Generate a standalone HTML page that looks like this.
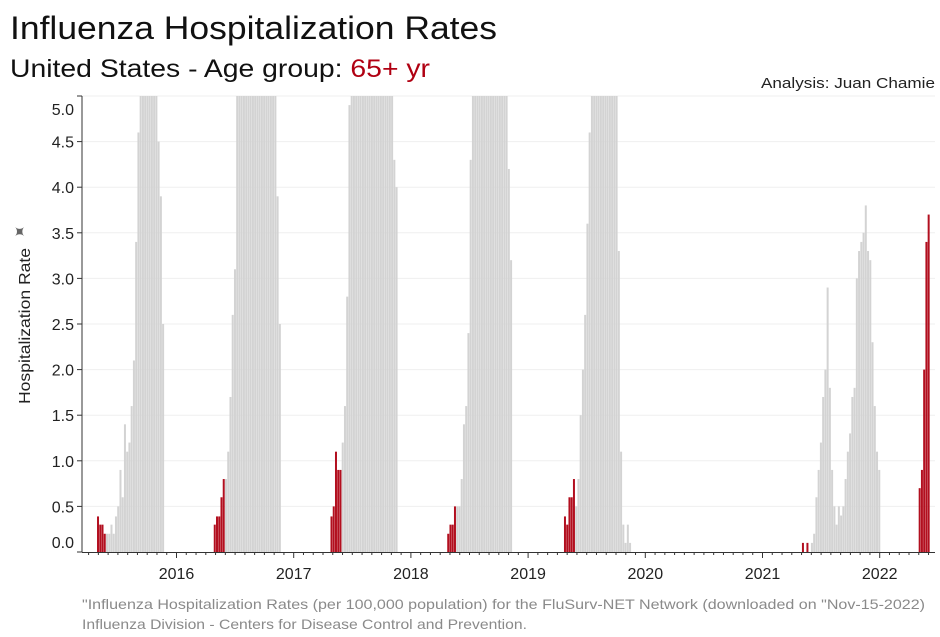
<!DOCTYPE html>
<html><head><meta charset="utf-8"><style>
body{margin:0;background:#fff;width:940px;height:637px;overflow:hidden;font-family:"Liberation Sans",sans-serif}
svg{display:block}
</style></head><body>
<svg id="chart" width="940" height="637" viewBox="0 0 940 637">
<text x="10" y="39" font-size="32" fill="#111" textLength="487" lengthAdjust="spacingAndGlyphs">Influenza Hospitalization Rates</text>
<text x="10" y="77" font-size="25" fill="#111" textLength="420" lengthAdjust="spacingAndGlyphs">United States - Age group: <tspan fill="#b00012">65+ yr</tspan></text>
<text x="761" y="88" font-size="15" fill="#222" textLength="174" lengthAdjust="spacingAndGlyphs">Analysis: Juan Chamie</text>
<g id="grid"></g>
<g id="bars"></g>
<g id="axes"></g>
<text transform="translate(30,404) rotate(-90)" font-size="16" fill="#222" textLength="156" lengthAdjust="spacingAndGlyphs">Hospitalization Rate</text>
<text transform="translate(24,236) rotate(-45)" font-size="17" fill="#666" text-anchor="middle">✦</text>
<text x="82" y="609" font-size="14" fill="#8a8a8a" textLength="843" lengthAdjust="spacingAndGlyphs">"Influenza Hospitalization Rates (per 100,000 population) for the FluSurv-NET Network (downloaded on "Nov-15-2022)</text>
<text x="82" y="629" font-size="14" fill="#8a8a8a" textLength="445" lengthAdjust="spacingAndGlyphs">Influenza Division - Centers for Disease Control and Prevention.</text>
</svg>
<script>
const seasonStart = [7, 59, 111, 163, 215, 321, 373];
const seasonRed = [4, 5, 5, 4, 5, 4, 5];
const season1 = [0.39,0.3,0.3,0.2,0.2,0.2,0.3,0.2,0.39,0.5,0.9,0.6,1.4,1.1,1.2,1.6,2.1,3.4,4.6,5.5,6,6.5,6,6,5.5,5.5,5.2,4.5,3.9,2.5];
const season2 = [0.3,0.39,0.39,0.6,0.8,0.8,1.1,1.7,2.6,3.1,5.5,6,6.5,7,7,7,7,6.5,6.5,6,6,6,5.5,5.5,5.5,5.5,5.2,5.2,3.9,2.5];
const season3 = [0.39,0.5,1.1,0.9,0.9,1.2,1.6,2.8,4.9,5.5,6,6.5,7,7,7,7,6.5,6.5,6,6,6,5.5,5.5,5.5,5.5,5.2,5.2,5.1,4.3,4.0];
const season4 = [0.2,0.3,0.3,0.5,0.5,0.5,0.8,1.4,1.6,2.4,4.3,5.5,6,6.5,7,7,7,6.5,6.5,6,6,5.5,5.5,5.5,5.2,5.2,5.1,4.2,3.2];
const season5 = [0.39,0.3,0.6,0.6,0.8,0.5,0.8,1.5,2.0,2.6,3.6,4.6,5.5,6,6.5,7,7,6.5,6,6,5.5,5.2,5.2,5.1,3.3,1.1,0.3,0.1,0.3,0.1];
const season6 = [0.1,0,0.1,0,0.1,0.2,0.6,0.9,1.2,1.7,2.0,2.9,1.8,0.9,0.5,0.3,0.5,0.4,0.5,0.8,1.1,1.3,1.7,1.8,3.0,3.3,3.4,3.5,3.8,3.3,3.2,2.3,1.6,1.1,0.9];
const season7 = [0.7,0.9,2.0,3.4,3.7];
const seasons = [season1, season2, season3, season4, season5, season6, season7];
const yTicks = ["0.0","0.5","1.0","1.5","2.0","2.5","3.0","3.5","4.0","4.5","5.0"];
const yearLabels = ["2016","2017","2018","2019","2020","2021","2022"];

const NS = "http://www.w3.org/2000/svg";
const X0 = 81.3, WK = 2.245, BASE = 552, PXU = 91.2, YMAX = 5.0;
const xWeek = w => X0 + w * WK;
const yVal = v => BASE - Math.min(v, YMAX + 0.0) * PXU;
const xYear = y => 176.5 + (y - 2016) * 117.2;
function mk(tag, attrs, parent){const e=document.createElementNS(NS,tag);for(const k in attrs)e.setAttribute(k,attrs[k]);parent.appendChild(e);return e;}
const grid = document.getElementById('grid'), bars = document.getElementById('bars'), axes = document.getElementById('axes');

yTicks.forEach((t,i)=>{
  const v = parseFloat(t), y = BASE - v*PXU;
  if (v>0){ const g=mk('line',{x1:82,x2:935,y1:y,y2:y,stroke:'#efefef','stroke-width':1},grid);
    
     }
  const tk=mk('line',{x1:77,x2:82,y1:y,y2:y,stroke:'#333'},axes);
  
  
  let ly = y+6; if (v===0) ly = y-4; if (v===5) ly = y+19;
  const tx=mk('text',{x:74,y:ly,'font-size':16,fill:'#222','text-anchor':'end'},axes);
  tx.textContent=t;
  
  
});

seasons.forEach((vals,si)=>{
  vals.forEach((v,i)=>{
    if (v<=0) return;
    const x = xWeek(seasonStart[si]+i);
    const r = mk('rect',{x:x,y:yVal(v),width:WK-0.25,height:BASE-yVal(v),fill: i<seasonRed[si] ? '#b20f1f' : '#d3d3d3'},bars);
    
    
  });
});

const ax=mk('line',{x1:82,x2:82,y1:96,y2:552,stroke:'#333'},axes);


const bx=mk('line',{x1:82,x2:935,y1:552.5,y2:552.5,stroke:'#333'},axes);


for (let m = -10; m <= 78; m++){
  const x = xYear(2016 + m/12);
  if (x < 83 || x > 935) continue;
  const major = m % 12 === 0;
  const t=mk('line',{x1:x,x2:x,y1:552,y2:major?558:555,stroke:'#333'},axes);
  
  
}
yearLabels.forEach(l=>{
  const t=mk('text',{x:xYear(parseInt(l)),y:579,'font-size':16,fill:'#222','text-anchor':'middle'},axes);
  t.textContent=l;
  
  
});
</script>
</body></html>
